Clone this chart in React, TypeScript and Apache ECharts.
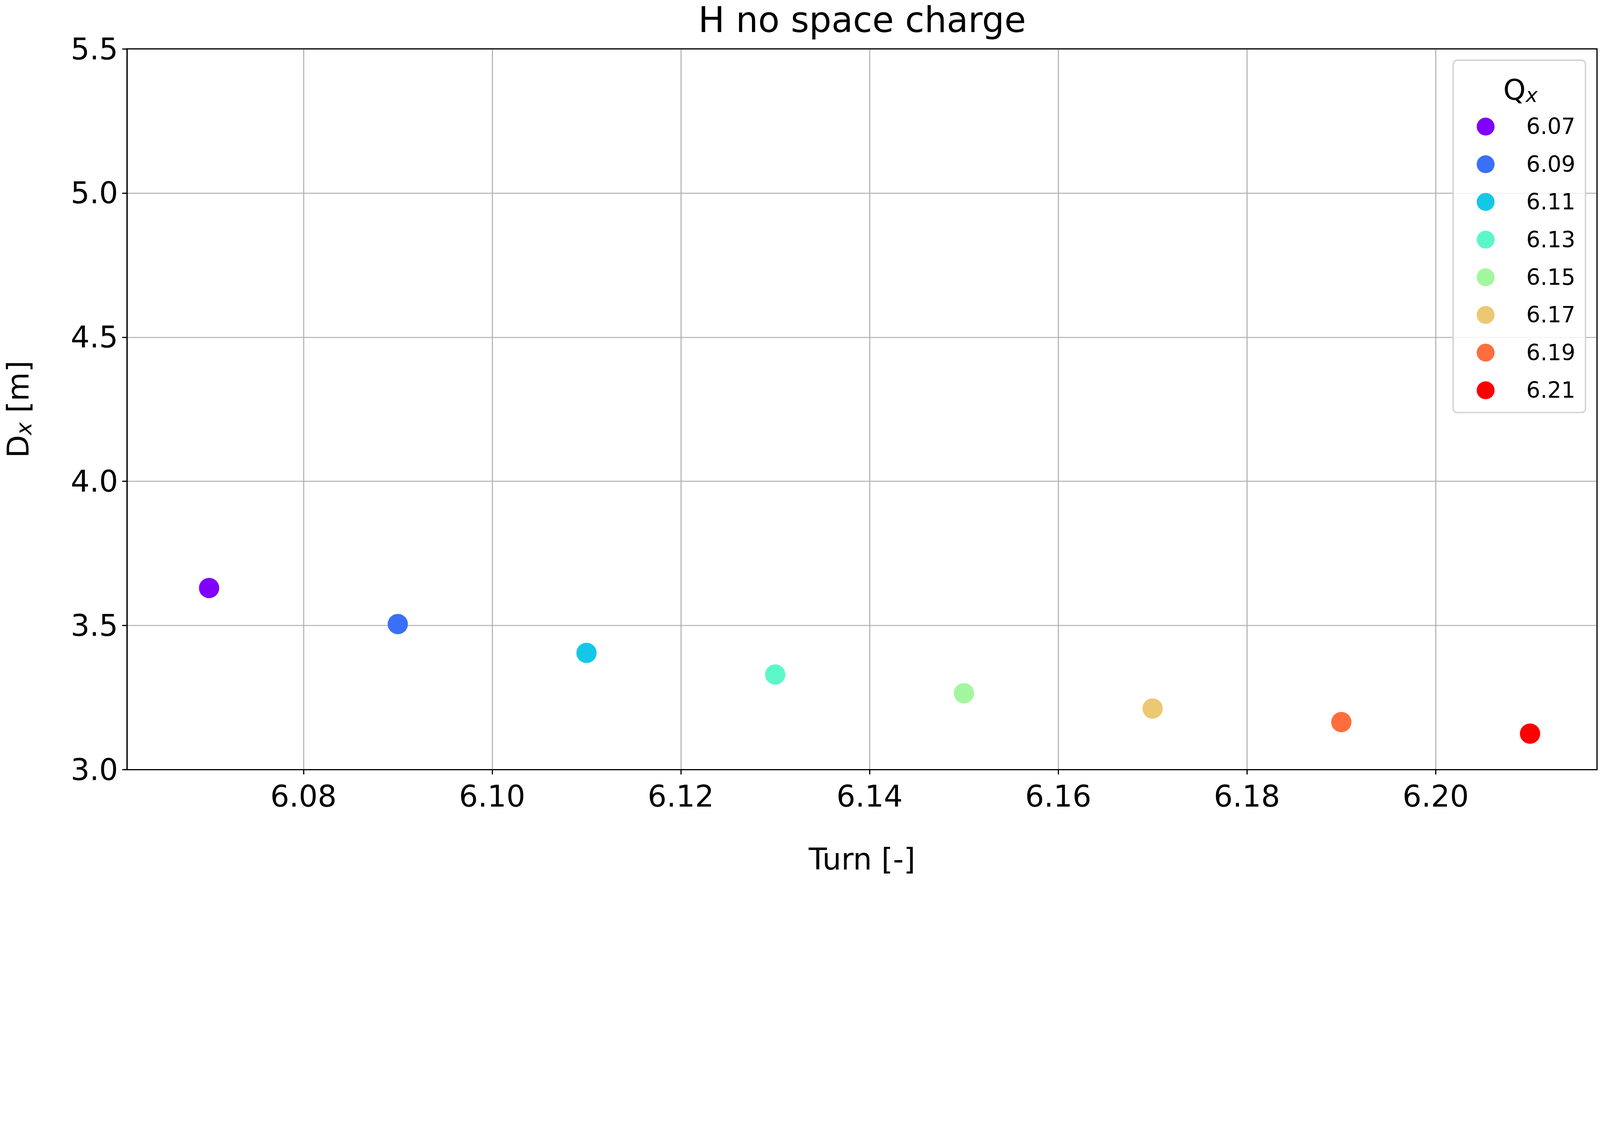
import { useEffect, useRef } from "react"
import * as echarts from "echarts"

const tunes = ["6.07", "6.09", "6.11", "6.13", "6.15", "6.17", "6.19", "6.21"]
const turns = [6.07, 6.09, 6.11, 6.13, 6.15, 6.17, 6.19, 6.21]
const dispersion = [3.63, 3.505, 3.405, 3.33, 3.265, 3.212, 3.165, 3.125]
const colors = ["#8000ff", "#3a70f7", "#12c8e6", "#5cf7c9", "#a2f79e", "#ecc872", "#ff6e3c", "#ff0000"]
const xTicks = [6.08, 6.1, 6.12, 6.14, 6.16, 6.18, 6.2]

const FONT = "DejaVu Sans"

export default function App() {
  const ref = useRef<HTMLDivElement>(null)

  useEffect(() => {
    if (!ref.current) return
    const chart = echarts.init(ref.current, undefined, { renderer: "svg" })
    // layout is measured in reference pixels (5372 wide), scaled to the css viewport
    const s = window.innerWidth / 5372

    const series: any[] = turns.map((t, i) => ({
      name: tunes[i],
      type: "scatter",
      symbolSize: 68 * s,
      itemStyle: { color: colors[i], opacity: 1 },
      data: [[t, dispersion[i]]],
      z: 5,
    }))
    series.push({
      type: "scatter",
      data: [],
      silent: true,
      markLine: {
        silent: true,
        symbol: "none",
        label: { show: false },
        lineStyle: { color: "#b0b0b0", width: 3.5 * s, type: "solid" },
        data: xTicks.map((v) => ({ xAxis: v })),
      },
      z: 1,
    })

    chart.setOption({
      animation: false,
      textStyle: { fontFamily: FONT },
      title: {
        text: "H no space charge",
        left: 2888 * s,
        textAlign: "center",
        top: 0,
        textStyle: { fontFamily: FONT, fontSize: 118 * s, fontWeight: "normal", color: "#000" },
      },
      grid: {
        left: 408 * s, right: window.innerWidth - 5362 * s, top: 164 * s, bottom: window.innerHeight - 2583 * s,
        show: true, borderColor: "#000", borderWidth: 4 * s, z: 10,
      },
      xAxis: {
        type: "value",
        min: 6.0613,
        max: 6.2171,
        name: "Turn [-]",
        nameLocation: "middle",
        nameGap: 250 * s,
        nameTextStyle: { fontFamily: FONT, fontSize: 100 * s, color: "#000" },
        axisLine: { show: true, lineStyle: { color: "#000", width: 4 * s } },
        axisTick: { show: true, length: 16 * s, inside: false, lineStyle: { color: "#000", width: 4 * s }, customValues: xTicks },
        axisLabel: {
          fontFamily: FONT, fontSize: 100 * s, color: "#000", margin: 40 * s,
          customValues: xTicks,
          formatter: (v: number) => v.toFixed(2),
        },
        splitLine: { show: false },
      },
      yAxis: {
        type: "value",
        min: 3,
        max: 5.5,
        interval: 0.5,
        name: "{n|D}{s|x}{n| [m]}",
        nameLocation: "middle",
        nameRotate: 90,
        nameGap: 310 * s,
        nameTextStyle: {
          rich: {
            n: { fontFamily: FONT, fontSize: 100 * s, color: "#000" },
            s: { fontFamily: FONT, fontSize: 72 * s, color: "#000", fontStyle: "italic", padding: [40 * s, 0, 0, 0] },
          },
        },
        axisLine: { show: true, lineStyle: { color: "#000", width: 4 * s } },
        axisTick: { show: true, length: 16 * s, lineStyle: { color: "#000", width: 4 * s } },
        axisLabel: {
          fontFamily: FONT, fontSize: 100 * s, color: "#000", margin: 30 * s,
          formatter: (v: number) => v.toFixed(1),
        },
        splitLine: { show: true, lineStyle: { color: "#b0b0b0", width: 3.5 * s } },
      },
      legend: {
        orient: "vertical",
        left: 4879 * s,
        top: 202 * s,
        padding: [186 * s, 34 * s, 38 * s, 79 * s],
        itemWidth: 60 * s,
        itemHeight: 60 * s,
        itemGap: 53 * s,
        icon: "circle",
        borderColor: "#d5d5d5",
        borderWidth: 5 * s,
        borderRadius: 14 * s,
        backgroundColor: "rgba(255,255,255,0.85)",
        textStyle: { fontFamily: FONT, fontSize: 74 * s, color: "#000", padding: [0, 0, 0, 100 * s] },
        data: tunes,
      },
      graphic: [
        {
          type: "text",
          x: 5105 * s,
          y: 301 * s,
          z: 100,
          style: {
            text: "{n|Q}{s|x}",
            align: "center",
            verticalAlign: "middle",
            rich: {
              n: { fontFamily: FONT, fontSize: 96 * s, fill: "#000" },
              s: { fontFamily: FONT, fontSize: 68 * s, fill: "#000", fontStyle: "italic", padding: [36 * s, 0, 0, 0] },
            },
          },
        },
      ],
      series,
    })

    return () => chart.dispose()
  }, [])

  return <div ref={ref} style={{ position: "fixed", left: 0, top: 0, width: "100vw", height: "100vh", background: "#fff" }} />
}
